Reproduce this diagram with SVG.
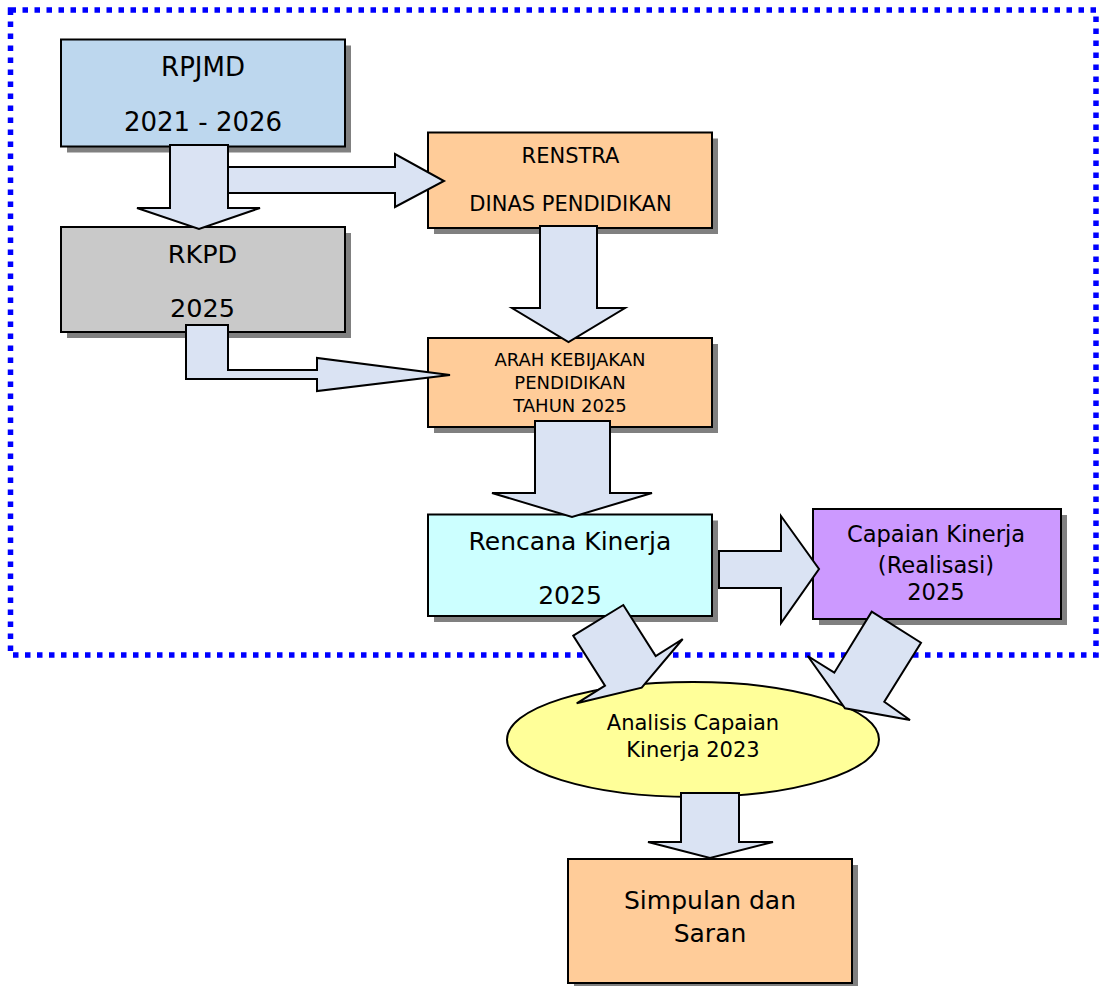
<svg xmlns="http://www.w3.org/2000/svg" width="1099" height="986" viewBox="0 0 1099 986">
  <style>
    .box { stroke: #000; stroke-width: 2; }
    .shadow { fill: #808080; }
    .arrow { fill: #DAE3F3; stroke: #000; stroke-width: 2; stroke-linejoin: miter; }
    text { font-family: "DejaVu Sans", Verdana, sans-serif; fill: #000; text-anchor: middle; }
  </style>
  <rect width="1099" height="986" fill="#fff"/>
  <rect id="frame" x="10.5" y="10" width="1085.5" height="645" fill="none" stroke="#0000FF" stroke-width="5.5" stroke-dasharray="5.5 6.5"/>

  <g id="rpjmd">
    <rect class="shadow" x="67" y="45.5" width="284" height="107"/>
    <rect class="box" x="61" y="39.5" width="284" height="107" fill="#BDD7EE"/>
    <text x="203" y="76" font-size="26">RPJMD</text>
    <text x="203" y="131" font-size="26">2021 - 2026</text>
  </g>
  <g id="rkpd">
    <rect class="shadow" x="67" y="233" width="284" height="105"/>
    <rect class="box" x="61" y="227" width="284" height="105" fill="#C9C9C9"/>
    <text x="202.5" y="263" font-size="25.5">RKPD</text>
    <text x="202.5" y="317" font-size="25.5">2025</text>
  </g>
  <g id="renstra">
    <rect class="shadow" x="434" y="138.5" width="284" height="95.5"/>
    <rect class="box" x="428" y="132.5" width="284" height="95.5" fill="#FFCC99"/>
    <text x="570.5" y="163" font-size="21">RENSTRA</text>
    <text x="570.5" y="211" font-size="21">DINAS PENDIDIKAN</text>
  </g>
  <g id="arah">
    <rect class="shadow" x="434" y="344" width="284" height="89"/>
    <rect class="box" x="428" y="338" width="284" height="89" fill="#FFCC99"/>
    <text x="570" y="365.5" font-size="18">ARAH KEBIJAKAN</text>
    <text x="570" y="388.5" font-size="18">PENDIDIKAN</text>
    <text x="570" y="411.5" font-size="18">TAHUN 2025</text>
  </g>
  <g id="rencana">
    <rect class="shadow" x="434" y="520.5" width="284" height="101.5"/>
    <rect class="box" x="428" y="514.5" width="284" height="101.5" fill="#CCFFFF"/>
    <text x="570" y="549.5" font-size="25">Rencana Kinerja</text>
    <text x="570" y="604" font-size="25">2025</text>
  </g>
  <g id="capaian">
    <rect class="shadow" x="819" y="515" width="248" height="110"/>
    <rect class="box" x="813" y="509" width="248" height="110" fill="#CC99FF"/>
    <text x="936" y="541.5" font-size="22.6">Capaian Kinerja</text>
    <text x="936" y="572.5" font-size="22.6">(Realisasi)</text>
    <text x="936" y="600" font-size="22.6">2025</text>
  </g>
  <g id="analisis">
    <ellipse cx="693" cy="739.5" rx="186" ry="57.5" fill="#FFFF99" stroke="#000" stroke-width="2"/>
    <text x="693" y="730" font-size="21">Analisis Capaian</text>
    <text x="693" y="756.5" font-size="21">Kinerja 2023</text>
  </g>
  <g id="simpulan">
    <rect class="shadow" x="574" y="865" width="284" height="124"/>
    <rect class="box" x="568" y="859" width="284" height="124" fill="#FFCC99"/>
    <text x="710" y="909" font-size="25">Simpulan dan</text>
    <text x="710" y="942" font-size="25">Saran</text>
  </g>

  <g id="connectors">
    <polygon class="arrow" points="228,167 395,167 395,154 444,181 395,207 395,193 228,193"/>
    <polygon class="arrow" points="170,145 228,145 228,208 260,208 199,229 137,208 170,208"/>
    <polygon class="arrow" points="186,325 228,325 228,370 317,370 317,358 450,375 317,391 317,379 186,379"/>
    <polygon class="arrow" points="540,226 597,226 597,308 625,308 568.5,342 512,308 540,308"/>
    <polygon class="arrow" points="535,421 610,421 610,493 652,493 572,517 492,493 535,493"/>
    <polygon class="arrow" points="719,551 781,551 781,516 819,569 781,623 781,588 719,588"/>
    <polygon class="arrow" points="573.3,635.7 623.3,605 655.7,656 682.7,639 641.7,687.7 576.7,703.3 605,685.7"/>
    <polygon class="arrow" points="871.7,611.7 921,642.7 884.3,701.7 910,720 845,708.3 807.7,656 834.3,672.7"/>
    <polygon class="arrow" points="681,793 739,793 739,842 773,842 710,858 648,842 681,842"/>
  </g>
</svg>
